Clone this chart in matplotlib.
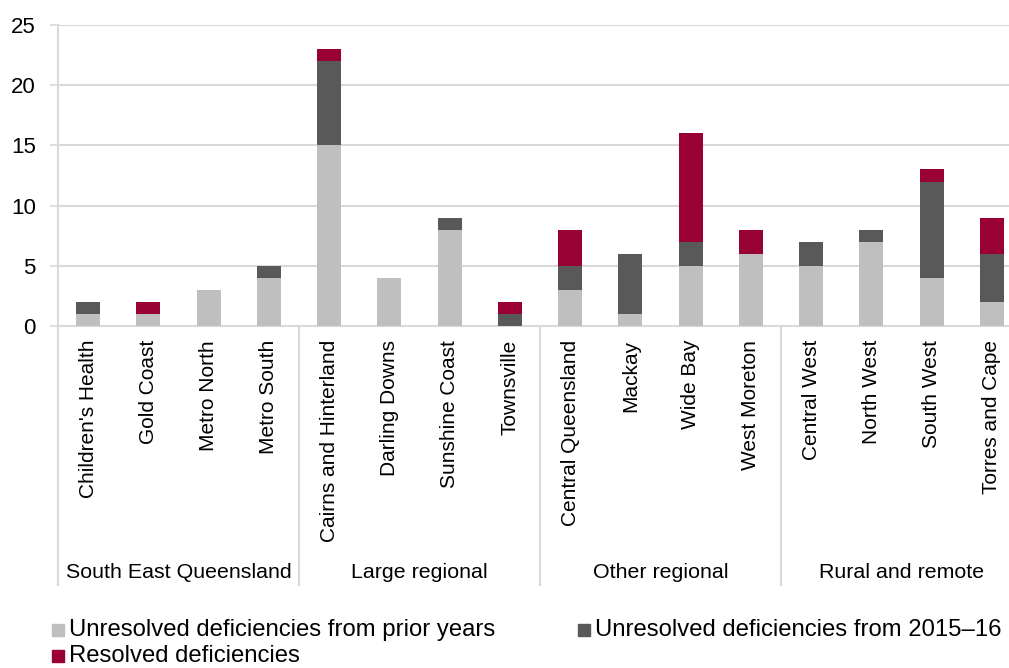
import matplotlib
matplotlib.use("Agg")
import matplotlib.pyplot as plt
import matplotlib.transforms as mtransforms
from matplotlib.patches import Rectangle
import numpy as np

plt.rcParams['font.family'] = ['Liberation Sans', 'DejaVu Sans']

# Hospital and health services, grouped by region type
categories = ["Children's Health", "Gold Coast", "Metro North", "Metro South",
              "Cairns and Hinterland", "Darling Downs", "Sunshine Coast", "Townsville",
              "Central Queensland", "Mackay", "Wide Bay", "West Moreton",
              "Central West", "North West", "South West", "Torres and Cape"]
groups = ["South East Queensland", "Large regional", "Other regional", "Rural and remote"]
group_sizes = [4, 4, 4, 4]

# Deficiency counts per entity
prior_years = [1, 1, 3, 4, 15, 4, 8, 0, 3, 1, 5, 6, 5, 7, 4, 2]
current_year = [1, 0, 0, 1, 7, 0, 1, 1, 2, 5, 2, 0, 2, 1, 8, 4]
resolved = [0, 1, 0, 0, 1, 0, 0, 1, 3, 0, 9, 2, 0, 0, 1, 3]

series_labels = ["Unresolved deficiencies from prior years",
                 "Unresolved deficiencies from 2015\u201316",
                 "Resolved deficiencies"]
colors = ["#bfbfbf", "#595959", "#990033"]
yticks = [0, 5, 10, 15, 20, 25]

W, H = 1009, 668
fig = plt.figure(figsize=(W / 100, H / 100), dpi=100)
ax_left, ax_right, ax_top, ax_bottom = 58, 1022, 25, 326
ax = fig.add_axes([ax_left / W, 1 - ax_bottom / H,
                   (ax_right - ax_left) / W, (ax_bottom - ax_top) / H])

x = np.arange(len(categories))
p = np.array(prior_years)
c = np.array(current_year)
r = np.array(resolved)
bw = 0.4
ax.bar(x, p, bw, color=colors[0], zorder=3)
ax.bar(x, c, bw, bottom=p, color=colors[1], zorder=3)
ax.bar(x, r, bw, bottom=p + c, color=colors[2], zorder=3)

grid_c = "#d9d9d9"
ax.set_xlim(-0.5, len(categories) - 0.5)
ax.set_ylim(0, 25)
ax.set_yticks(yticks)
ax.yaxis.grid(True, color=grid_c, linewidth=1.5, zorder=0)
ax.tick_params(axis='y', length=6, width=1.2, color=grid_c, labelsize=16,
               pad=10, labelcolor="#000000")
ax.set_xticks(x)
ax.set_xticklabels(categories, rotation=90, va='top', ha='center', fontsize=15)
ax.tick_params(axis='x', length=0, pad=10)
for s in ['top', 'right']:
    ax.spines[s].set_visible(False)
for s in ['left', 'bottom']:
    ax.spines[s].set_color(grid_c)
    ax.spines[s].set_linewidth(1.5)

# Group separators and group labels below the category labels
trans = mtransforms.blended_transform_factory(ax.transData, ax.transAxes)
sep_bottom = (ax_bottom - 585) / (ax_bottom - ax_top)
label_y = (ax_bottom - 573) / (ax_bottom - ax_top)
edges = np.concatenate([[0], np.cumsum(group_sizes)]) - 0.5
for e in edges:
    ax.plot([e, e], [0, sep_bottom], transform=trans, color=grid_c,
            linewidth=1.5, clip_on=False)
for g, lo, hi in zip(groups, edges[:-1], edges[1:]):
    ax.text((lo + hi) / 2, label_y, g, transform=trans, ha='center',
            va='center', fontsize=15.4)

# Legend laid out in two rows beneath the chart
legend_pos = [(52, 630), (578, 630), (52, 656)]
sq = 12
for (lx, ly), lab, col in zip(legend_pos, series_labels, colors):
    fig.add_artist(Rectangle((lx / W, 1 - (ly + sq / 2) / H), sq / W, sq / H,
                             transform=fig.transFigure, color=col))
    fig.text((lx + sq + 5) / W, 1 - ly / H, lab, ha='left', va='center',
             fontsize=17.2)

fig.savefig("out.png", dpi=100)
